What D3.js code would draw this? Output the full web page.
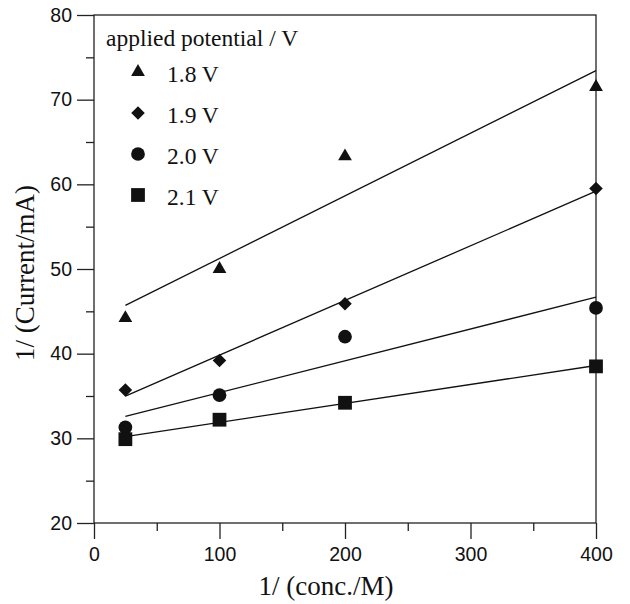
<!DOCTYPE html>
<html>
<head>
<meta charset="utf-8">
<script src="https://cdn.jsdelivr.net/npm/d3@7"></script>
<style>
  body { margin: 0; background: #fff; }
  svg { display: block; }
</style>
</head>
<body>
<svg width="630" height="604"></svg>
<script>
"use strict";

// data
const concX = [25, 100, 200, 400];
const potentials = ["1.8 V", "1.9 V", "2.0 V", "2.1 V"];
const v18 = [44.2, 50.0, 63.3, 71.5];
const v19 = [35.7, 39.2, 45.9, 59.5];
const v20 = [31.3, 35.1, 42.0, 45.4];
const v21 = [29.9, 32.2, 34.2, 38.5];
const xTicks = [0, 100, 200, 300, 400];
const yTicks = [20, 30, 40, 50, 60, 70, 80];

// diamond = square turned 45deg
const series = [
  { name: potentials[0], values: v18, sym: d3.symbolTriangle, size: 82, rot: 0 },
  { name: potentials[1], values: v19, sym: d3.symbolSquare, size: 92, rot: 45 },
  { name: potentials[2], values: v20, sym: d3.symbolCircle, size: 148, rot: 0 },
  { name: potentials[3], values: v21, sym: d3.symbolSquare, size: 190, rot: 0 }
];

const ink = "#111";
const serif = "'Liberation Serif', 'Times New Roman', serif";
const svg = d3.select("svg");
const plotL = 94, plotR = 596, plotT = 15, plotB = 523;

const x = d3.scaleLinear().domain([0, 400]).range([plotL, plotR]);
const y = d3.scaleLinear().domain([20, 80]).range([plotB, plotT]);

/////////////////////////////////////////
// frame and axes
/////////////////////////////////////////
svg.append("rect")
  .attr("x", plotL).attr("y", plotT)
  .attr("width", plotR - plotL).attr("height", plotB - plotT)
  .attr("fill", "none").attr("stroke", "#222").attr("stroke-width", 1.3);

const xAxis = svg.append("g")
  .attr("transform", `translate(0,${plotB})`)
  .call(d3.axisBottom(x).tickValues(xTicks).tickSize(16).tickPadding(8).tickFormat(d3.format("d")));
xAxis.append("g").call(d3.axisBottom(x).tickValues([50, 150, 250, 350]).tickSize(8).tickFormat(""));

const yAxis = svg.append("g")
  .attr("transform", `translate(${plotL},0)`)
  .call(d3.axisLeft(y).tickValues(yTicks).tickSize(17).tickPadding(5).tickFormat(d3.format("d")));
yAxis.append("g").call(d3.axisLeft(y).tickValues([25, 35, 45, 55, 65, 75]).tickSize(8).tickFormat(""));

svg.selectAll(".domain").remove();
svg.selectAll(".tick line").attr("stroke", "#222").attr("stroke-width", 1.3);
svg.selectAll(".tick text")
  .attr("fill", "#111")
  .style("font-family", "'Liberation Sans', Arial, sans-serif")
  .style("font-size", "19.5px");

svg.append("text")
  .attr("x", 326).attr("y", 595)
  .attr("text-anchor", "middle")
  .style("font-family", serif)
  .style("font-size", "27px")
  .attr("fill", ink)
  .text("1/ (conc./M)");

svg.append("text")
  .attr("transform", "translate(34,273) rotate(-90)")
  .attr("text-anchor", "middle")
  .style("font-family", serif)
  .style("font-size", "27px")
  .attr("fill", ink)
  .text("1/ (Current/mA)");

/////////////////////////////////////////
// least squares lines + points
/////////////////////////////////////////
function fit(xs, ys) {
  const mx = d3.mean(xs), my = d3.mean(ys);
  const sxy = d3.sum(xs, (v, i) => (v - mx) * (ys[i] - my));
  const sxx = d3.sum(xs, (v) => (v - mx) * (v - mx));
  const b = sxy / sxx;
  return (v) => my + b * (v - mx);
}

const line = d3.line().x((d) => x(d[0])).y((d) => y(d[1]));

series.forEach((s) => {
  const f = fit(concX, s.values);
  const ends = d3.extent(concX);
  svg.append("path")
    .attr("d", line(ends.map((v) => [v, f(v)])))
    .attr("fill", "none")
    .attr("stroke", ink)
    .attr("stroke-width", 1.3);

  svg.append("g")
    .selectAll("path")
    .data(concX.map((v, i) => [v, s.values[i]]))
    .enter()
    .append("path")
    .attr("transform", (d) => `translate(${x(d[0])},${y(d[1])}) rotate(${s.rot})`)
    .attr("d", d3.symbol().type(s.sym).size(s.size))
    .attr("fill", ink);
});

/////////////////////////////////////////
// legend
/////////////////////////////////////////
const legend = svg.append("g").attr("transform", "translate(106,46)");
legend.append("text")
  .attr("x", 0).attr("y", 0)
  .style("font-family", serif)
  .style("font-size", "23.5px")
  .attr("fill", ink)
  .text("applied potential / V");

const rows = legend.selectAll("g.row")
  .data(series)
  .enter()
  .append("g")
  .attr("class", "row")
  .attr("transform", (d, i) => `translate(0,${26 + i * 41})`);

rows.append("path")
  .attr("transform", (d) => `translate(32,0) rotate(${d.rot})`)
  .attr("d", (d) => d3.symbol().type(d.sym).size(d.size)())
  .attr("fill", ink);

rows.append("text")
  .attr("x", 61).attr("y", 10)
  .style("font-family", serif)
  .style("font-size", "23.5px")
  .attr("fill", ink)
  .text((d) => d.name);
</script>
</body>
</html>
